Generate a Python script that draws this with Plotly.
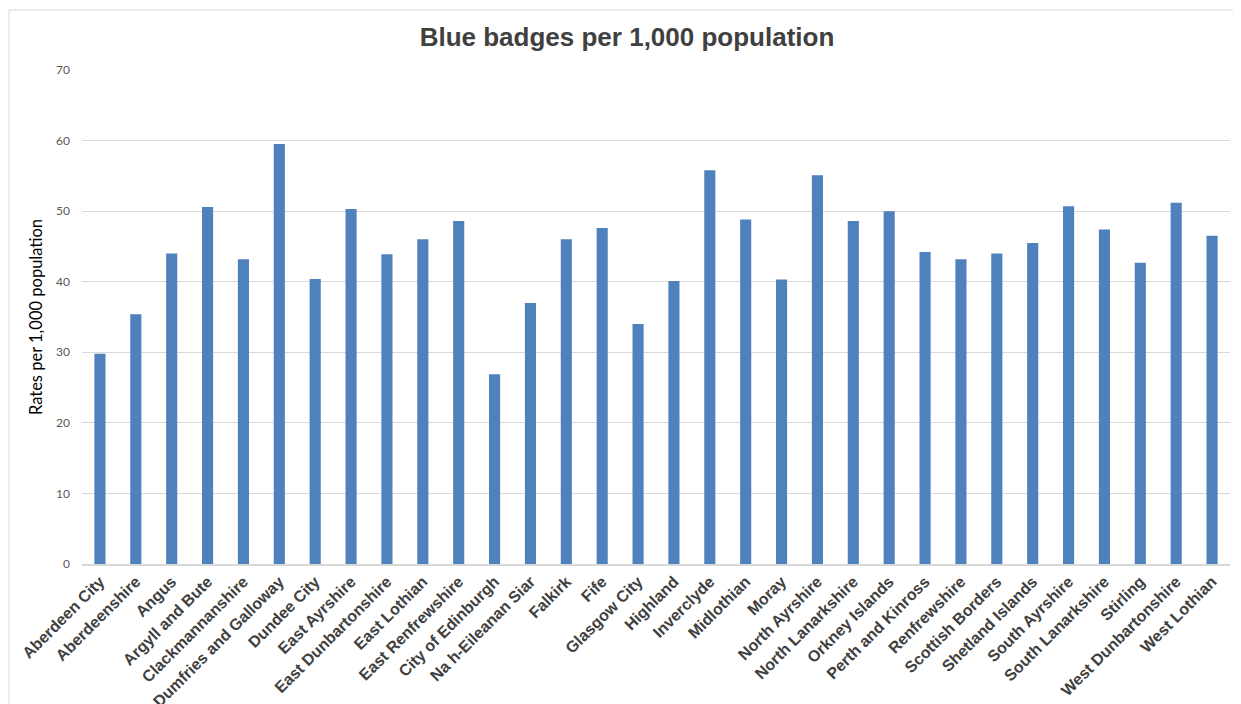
import plotly.graph_objects as go

# Council areas and blue badges per 1,000 population
areas = [
    "Aberdeen City", "Aberdeenshire", "Angus", "Argyll and Bute", "Clackmannanshire",
    "Dumfries and Galloway", "Dundee City", "East Ayrshire", "East Dunbartonshire",
    "East Lothian", "East Renfrewshire", "City of Edinburgh", "Na h-Eileanan Siar",
    "Falkirk", "Fife", "Glasgow City", "Highland", "Inverclyde", "Midlothian", "Moray",
    "North Ayrshire", "North Lanarkshire", "Orkney Islands", "Perth and Kinross",
    "Renfrewshire", "Scottish Borders", "Shetland Islands", "South Ayrshire",
    "South Lanarkshire", "Stirling", "West Dunbartonshire", "West Lothian",
]
rates = [
    29.8, 35.4, 44.0, 50.6, 43.2, 59.5, 40.4, 50.3, 43.9, 46.0, 48.6, 26.9, 37.0,
    46.0, 47.6, 34.0, 40.1, 55.8, 48.8, 40.3, 55.1, 48.6, 50.0, 44.2, 43.2, 44.0,
    45.5, 50.7, 47.4, 42.7, 51.2, 46.5,
]
y_ticks = [0, 10, 20, 30, 40, 50, 60, 70]

# the page body adds an 8px margin, so the figure is drawn 8px smaller
W, H = 1233, 696
L, R, T, B = 74, 11, 62, 140
plot_w, plot_h = W - L - R, H - T - B

fig = go.Figure()
fig.add_trace(go.Bar(
    x=areas,
    y=rates,
    marker=dict(color="#4F81BD", line=dict(color="#4F81BD", width=0)),
    hoverinfo="x+y",
))

fig.update_layout(
    width=W,
    height=H,
    paper_bgcolor="white",
    plot_bgcolor="white",
    margin=dict(l=L, r=R, t=T, b=B),
    bargap=0.69,
    showlegend=False,
    title=dict(
        text="<b>Blue badges per 1,000 population</b>",
        x=619 / W,
        xref="container",
        xanchor="center",
        y=1 - 29 / H,
        yanchor="middle",
        font=dict(family="Liberation Sans, Arial", size=26, color="#404040"),
    ),
)

fig.update_xaxes(
    automargin=False,
    tickangle=-45,
    tickmode="array",
    tickvals=areas,
    ticktext=[f"<b>{a}</b>" for a in areas],
    tickfont=dict(family="Liberation Sans, Arial", size=16, color="#404040"),
    showgrid=False,
    showline=True,
    linecolor="#d9d9d9",
    linewidth=2,
    ticks="",
)
fig.update_yaxes(
    automargin=False,
    range=[0, 70],
    tickvals=y_ticks,
    tickfont=dict(family="Lato, Open Sans", size=12, color="#595959"),
    gridcolor="#d9d9d9",
    gridwidth=1,
    zeroline=False,
    showline=False,
    ticks="",
    ticklabelstandoff=11,
    title=dict(
        text="Rates per 1,000 population",
        font=dict(family="Lato, Open Sans", size=16.5, color="#000000"),
        standoff=9,
    ),
)

# light grey chart frame
fig.add_shape(
    type="rect", xref="paper", yref="paper",
    x0=-(L - 1) / plot_w, x1=1.1, y0=-0.5, y1=1 + (T - 2) / plot_h,
    line=dict(color="#d9d9d9", width=1), fillcolor="rgba(0,0,0,0)", layer="below",
)

fig.write_html("out.html")
